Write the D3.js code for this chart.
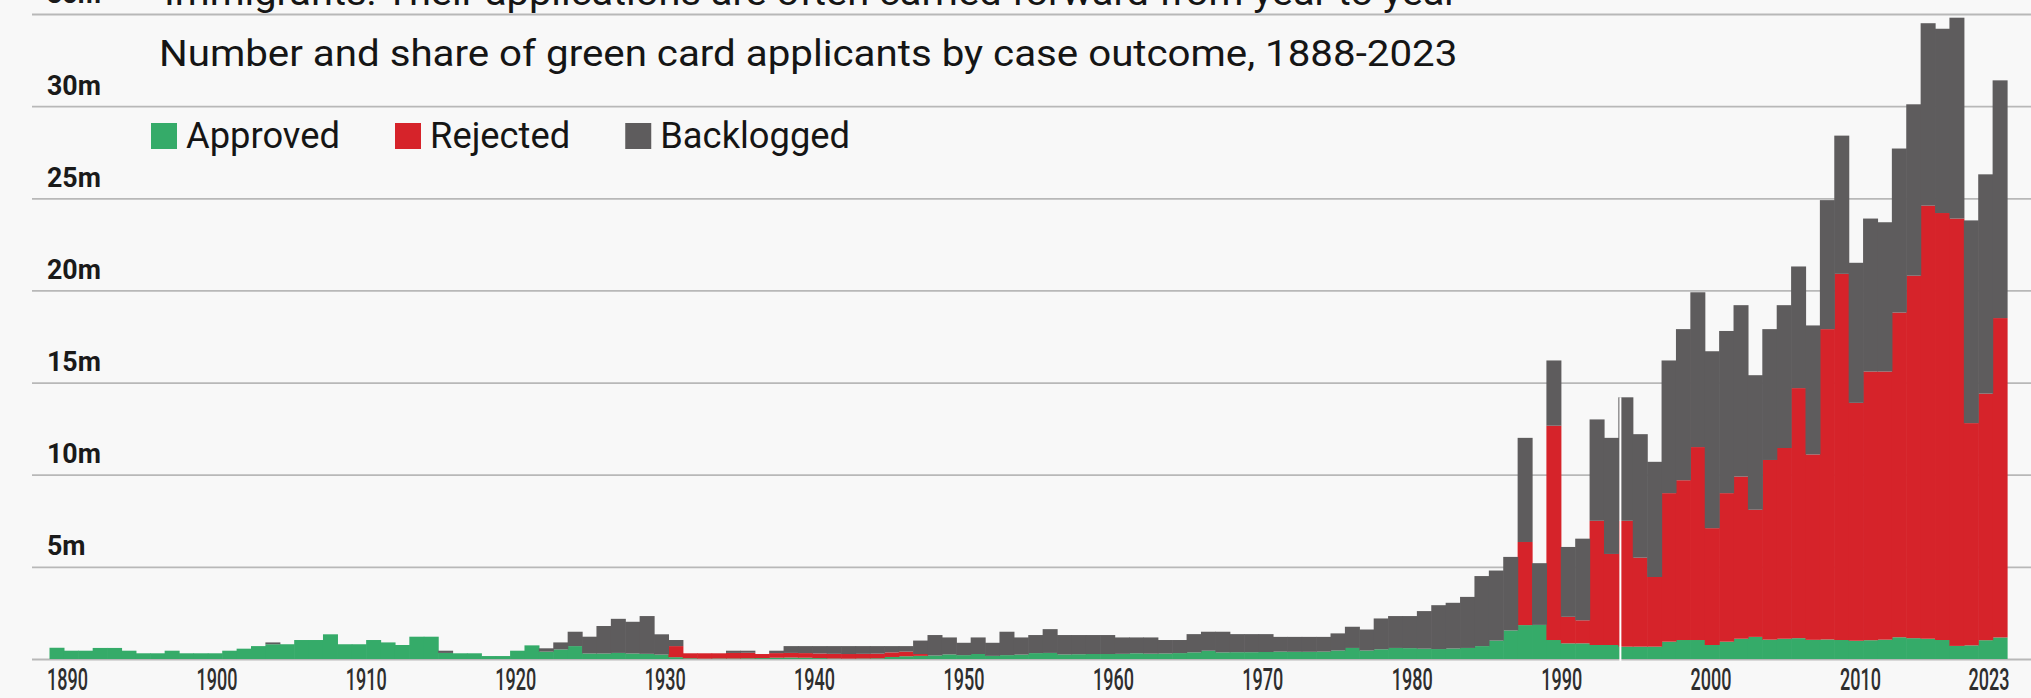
<!DOCTYPE html>
<html><head><meta charset="utf-8">
<script src="https://cdn.jsdelivr.net/npm/d3@7"></script>
<style>
html,body{margin:0;padding:0;background:#f8f8f8;overflow:hidden}
svg{display:block}
</style></head><body>
<svg id="chart" width="2031" height="698"></svg>
<script>
// ---------- DATA (millions of applicants) ----------
const years = d3.range(1888, 2024);
const approved = [
0.61,0.45,0.45,0.60,0.60,0.45,0.31,0.31,0.45,0.31,0.31,0.31, // 1888-1899
0.45,0.56,0.70,0.80,0.80,1.03,1.03,1.34,0.80,0.80,           // 1900-1909
1.03,0.90,0.76,1.21,1.21,0.33,0.31,0.31,0.16,0.16,           // 1910-1919
0.45,0.74,0.40,0.52,0.70,0.30,0.30,0.33,0.30,0.28,           // 1920-1929
0.24,0.10,0.04,0.02,0.03,0.03,0.04,0.05,0.07,0.08,           // 1930-1939
0.07,0.05,0.03,0.02,0.03,0.04,0.11,0.15,0.17,0.19,           // 1940-1949
0.25,0.21,0.27,0.17,0.21,0.24,0.32,0.33,0.25,0.26,           // 1950-1959
0.27,0.27,0.28,0.31,0.29,0.30,0.32,0.36,0.45,0.36,           // 1960-1969
0.37,0.37,0.38,0.40,0.39,0.39,0.40,0.46,0.60,0.46,           // 1970-1979
0.53,0.60,0.59,0.56,0.54,0.57,0.60,0.70,1.00,1.55,           // 1980-1989
1.84,1.85,1.03,0.85,0.85,0.76,0.76,0.67,0.67,0.67,           // 1990-1999
0.94,1.03,1.03,0.76,0.94,1.10,1.20,1.05,1.10,1.13,           // 2000-2009
1.04,1.06,1.03,0.99,1.02,1.05,1.18,1.13,1.10,1.03,           // 2010-2019
0.71,0.74,1.02,1.17                                          // 2020-2023
];
const rejected = [
0,0,0,0,0,0,0,0,0,0,0,0,                                     // 1888-1899
0,0,0,0,0,0,0,0,0,0,                                         // 1900-1909
0,0,0,0,0,0,0,0,0,0,                                         // 1910-1919
0,0,0,0,0,0,0,0,0,0,                                         // 1920-1929
0,0.60,0.27,0.29,0.28,0.30,0.30,0.22,0.25,0.25,              // 1930-1939
0.25,0.25,0.25,0.25,0.25,0.25,0.25,0.25,0.10,0,              // 1940-1949
0,0,0,0,0,0,0,0,0,0,                                         // 1950-1959
0,0,0,0,0,0,0,0,0,0,                                         // 1960-1969
0,0,0,0,0,0,0,0,0,0,                                         // 1970-1979
0,0,0,0,0,0,0,0,0,0,                                         // 1980-1989
4.51,0,11.63,1.44,1.25,6.74,4.94,6.83,4.83,3.78,             // 1990-1999
8.06,8.67,10.47,6.34,8.06,8.80,6.90,9.75,10.35,13.57,        // 2000-2009
10.06,16.84,19.87,12.91,14.58,14.55,17.62,19.67,23.50,23.17, // 2010-2019
23.19,12.06,13.38,17.33                                      // 2020-2023
];
const backlogged = [
0,0,0,0,0,0,0,0,0,0,0,0,                                     // 1888-1899
0,0,0,0.10,0,0,0,0,0,0,                                      // 1900-1909
0,0,0,0,0,0.12,0,0,0,0,                                      // 1910-1919
0,0,0.18,0.38,0.78,0.91,1.49,1.85,1.72,2.05,                 // 1920-1929
1.10,0.33,0,0,0,0.12,0.11,0,0.13,0.37,                       // 1930-1939
0.38,0.40,0.42,0.43,0.42,0.41,0.34,0.30,0.73,1.11,           // 1940-1949
0.92,0.67,0.90,0.71,1.27,0.93,0.98,1.29,1.05,1.04,           // 1950-1959
1.03,1.03,0.89,0.86,0.88,0.73,0.71,0.99,1.03,1.12,           // 1960-1969
0.98,0.98,0.97,0.80,0.81,0.81,0.80,0.93,1.15,1.14,           // 1970-1979
1.67,1.73,1.74,2.04,2.38,2.48,2.77,3.80,3.80,3.99,           // 1980-1989
5.65,3.35,3.54,3.79,4.43,5.50,6.30,6.70,6.70,6.25,           // 1990-1999
7.20,8.20,8.40,9.60,8.80,9.30,7.30,7.10,7.75,6.60,           // 2000-2009
7.00,7.00,7.50,7.60,8.30,8.10,8.90,9.30,9.90,10.00,          // 2010-2019
10.90,11.00,11.90,12.90                                      // 2020-2023
];
const seriesKeys = ["approved", "rejected", "backlogged"];
const seriesNames = ["Approved", "Rejected", "Backlogged"];
const seriesColors = ["#35ab69", "#d6232a", "#5e5c5d"];
const yTicks = [5, 10, 15, 20, 25, 30, 35];
const gridTicks = [0, 5, 10, 15, 20, 25, 30, 35];
const xTickLabels = [1890, 1900, 1910, 1920, 1930, 1940, 1950, 1960, 1970, 1980, 1990, 2000, 2010];
const endTickLabel = 2023;
const markerYear = 1997;
const headline = "Immigrants: Their applications are often carried forward from year to year";
const subtitle = "Number and share of green card applicants by case outcome, 1888-2023";

// ---------- LAYOUT ----------
const W = 2031, H = 698;
const FONT = "Roboto, 'Liberation Sans', Arial, sans-serif";
const svg = d3.select("#chart");
svg.append("rect").attr("width", W).attr("height", H).attr("fill", "#f8f8f8");

const rows = years.map((yr, i) => ({year: yr, approved: approved[i], rejected: rejected[i], backlogged: backlogged[i]}));
const x = d3.scaleBand().domain(years).range([49.5, 2007]).padding(0);
const y = d3.scaleLinear().domain([0, 35]).range([659, 14]);
const labelX = d3.scaleLinear().domain([1890, 2010]).range([67, 1860]);
const color = d3.scaleOrdinal().domain(seriesKeys).range(seriesColors);

function fit(textSel, target) {
  const node = textSel.node();
  const L = node.getComputedTextLength();
  return L > 0 ? target / L : 1;
}

// gridlines
const grid = svg.append("g").attr("transform", "translate(32,0)")
  .call(d3.axisRight(y).tickValues(gridTicks).tickSize(W - 32).tickFormat(""));
grid.select(".domain").remove();
grid.selectAll(".tick line").attr("stroke", "#b8b8b8").attr("stroke-width", 1.8);

// stacked bars
const stacked = d3.stack().keys(seriesKeys)(rows);
svg.append("g").selectAll("g").data(stacked).join("g")
  .attr("fill", d => color(d.key))
  .selectAll("rect").data(d => d).join("rect")
  .attr("x", d => x(d.data.year))
  .attr("width", x.bandwidth() + 0.6)
  .attr("y", d => y(d[1]))
  .attr("height", d => Math.max(0, y(d[0]) - y(d[1])));

// white separator line
const mi = years.indexOf(markerYear);
const markerTop = Math.max(approved[mi] + rejected[mi] + backlogged[mi], approved[mi-1] + rejected[mi-1] + backlogged[mi-1]);
svg.append("line")
  .attr("x1", x(markerYear) + 2).attr("x2", x(markerYear) + 2)
  .attr("y1", y(0) + 2).attr("y2", y(markerTop))
  .attr("stroke", "#ffffff").attr("stroke-width", 2);

// y-axis labels
const yLab = svg.append("g").attr("transform", "translate(47,0)")
  .call(d3.axisRight(y).tickValues(yTicks).tickSize(0).tickFormat(d => d + "m"));
yLab.select(".domain").remove();
yLab.selectAll(".tick text")
  .attr("x", 0).attr("y", -12).attr("dy", 0)
  .attr("text-anchor", "start")
  .attr("font-family", FONT).attr("font-weight", "bold").attr("font-size", 27)
  .attr("fill", "#1a1a1a");
const yRef = yLab.selectAll(".tick text").filter(d => d === 30);
const ys = fit(yRef, 54);
yLab.selectAll(".tick text").attr("transform", `scale(${ys},1)`);

// x-axis labels
const xLab = svg.append("g").attr("transform", "translate(0,690)")
  .call(d3.axisBottom(labelX).tickValues(xTickLabels).tickSize(0).tickFormat(d3.format("d")));
xLab.select(".domain").remove();
xLab.selectAll(".tick text")
  .attr("y", 0).attr("dy", 0)
  .attr("font-family", FONT).attr("font-weight", 500).attr("font-size", 32).attr("fill", "#2e2e2e");
const xRef = xLab.selectAll(".tick text").filter(d => d === 1890);
const xs = fit(xRef, 41);
xLab.selectAll(".tick text").attr("transform", `scale(${xs},1)`);
// end label for final year, placed at the end of the bars
svg.append("text")
  .attr("transform", `translate(${x(endTickLabel) - 24},690) scale(${xs},1)`)
  .attr("font-family", FONT).attr("font-weight", 500).attr("font-size", 32).attr("fill", "#2e2e2e")
  .text(endTickLabel);

// headline (cut off at top) and subtitle
const hl = svg.append("text").attr("font-family", FONT).attr("font-size", 36).attr("fill", "#151515").text(headline);
hl.attr("transform", `translate(164,5) scale(${fit(hl, 1294)},1)`);
const st = svg.append("text").attr("font-family", FONT).attr("font-size", 37).attr("fill", "#151515").text(subtitle);
st.attr("transform", `translate(159,66) scale(${fit(st, 1299)},1)`);

// legend
const leg = svg.append("g");
const items = leg.selectAll("g").data(seriesNames).join("g");
items.append("rect").attr("width", 26).attr("height", 26).attr("y", 123)
  .attr("fill", (d, i) => seriesColors[i]);
items.append("text").attr("font-family", FONT).attr("font-size", 37).attr("fill", "#151515")
  .attr("y", 148).text(d => d);
const ls = fit(items.filter((d, i) => i === 0).select("text"), 154);
let cx = 151;
items.each(function() {
  const g = d3.select(this);
  g.select("rect").attr("x", cx);
  const t = g.select("text");
  const w = t.node().getComputedTextLength() * ls;
  t.attr("transform", `translate(${cx + 35},0) scale(${ls},1)`);
  cx = cx + 35 + w + 55;
});
</script>
</body></html>
